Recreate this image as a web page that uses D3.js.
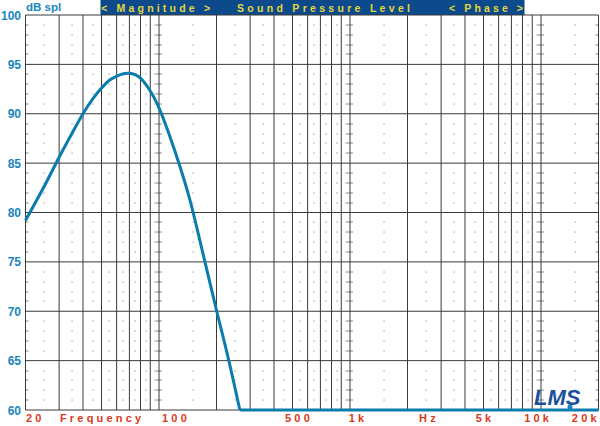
<!DOCTYPE html>
<html><head><meta charset="utf-8">
<script src="https://cdn.jsdelivr.net/npm/d3@7"></script>
<style>
html,body{margin:0;padding:0;background:#fff;}
svg{display:block;}
text{font-family:"Liberation Sans",Arial,Helvetica,sans-serif;font-weight:bold;}
</style></head>
<body>
<svg id="chart" width="600" height="426"></svg>
<script>
// ---- data ----
const freqHz = [20, 25, 30, 35, 40, 45, 50, 55, 60, 65, 70, 75, 80, 90, 100, 114, 129, 145, 174, 200, 232, 265];
const splDb  = [79.2, 82.6, 85.6, 88.0, 90.0, 91.5, 92.6, 93.4, 93.8, 94.05, 94.1, 93.95, 93.6, 92.3, 90.6, 87.7, 84.6, 81.3, 75.0, 70.1, 65.0, 60.0];
const floorFreqs = [265, 20000];
const floorDb = [60, 60];
const yTicks = [60, 65, 70, 75, 80, 85, 90, 95, 100];
const xLabels = ["20", "Frequency", "100", "500", "1k", "Hz", "5k", "10k", "20k"];
const xLabelFreqs = [20.1, 30.3, 103.7, 457, 985, 2300, 4557, 8165, 14500];
const headerTexts = ["< Magnitude >", "Sound Pressure Level", "< Phase >"];
const headerFreqs = [49.8, 256, 3300];
const headerEnds = [185, 2060, 8050];

// ---- scales ----
const svg = d3.select("#chart");
const x = d3.scaleLog().domain([20, 20000]).range([25.5, 598.5]);
const y = d3.scaleLinear().domain([60, 100]).range([410, 15]);

// grid frequencies
const gridF = [];
const dotF = [];
[10, 100, 1000, 10000].forEach(dec => {
  for (let m = 1; m <= 10; m++) {
    const f = dec * m;
    if (f >= 20 && f <= 20000) gridF.push(f);
    const h = dec * (m + 0.5);
    if (m < 10 && h > 20 && h < 20000) dotF.push(h);
  }
});
const uniqGrid = Array.from(new Set(gridF));

// header bar
svg.append("rect").attr("x", 100.5).attr("y", 0).attr("width", 424).attr("height", 15).attr("fill", "#0d4a8b");
headerTexts.forEach((t, i) => {
  svg.append("text").attr("x", x(headerFreqs[i])).attr("y", 11.5)
    .attr("textLength", x(headerEnds[i]) - x(headerFreqs[i])).attr("lengthAdjust", "spacing")
    .attr("font-size", 10.5).attr("fill", "#e4d63c").text(t);
});

// dots (1 dB minor grid)
const g = svg.append("g");
const dbMinor = d3.range(61, 100).filter(d => d % 5 !== 0);
dotF.forEach(f => {
  dbMinor.forEach(d => {
    g.append("rect").attr("x", Math.round(x(f)) - 0.5).attr("y", Math.round(y(d)) - 0.5)
      .attr("width", 1.1).attr("height", 1.1).attr("fill", "#888");
  });
});
// small dashes on decade lines
[20, 100, 1000, 10000, 20000].forEach(f => {
  dbMinor.forEach(d => {
    const cx = x(f);
    const x0 = f === 20 ? cx : cx - 3;
    const x1 = f === 20000 ? cx : cx + 3;
    g.append("line").attr("x1", x0).attr("x2", x1).attr("y1", Math.round(y(d))).attr("y2", Math.round(y(d)))
      .attr("stroke", "#888").attr("stroke-width", 1);
  });
});

// vertical grid lines
uniqGrid.forEach(f => {
  g.append("line").attr("x1", x(f)).attr("x2", x(f)).attr("y1", 15).attr("y2", 410)
    .attr("stroke", "#3a3a3a").attr("stroke-width", 1);
});
// horizontal grid lines
yTicks.forEach(d => {
  g.append("line").attr("x1", 25.5).attr("x2", 598.5).attr("y1", y(d)).attr("y2", y(d))
    .attr("stroke", "#3a3a3a").attr("stroke-width", 1);
});

// y labels
yTicks.forEach(d => {
  svg.append("text").attr("x", 21).attr("y", y(d) + 4.5).attr("text-anchor", "end")
    .attr("font-size", 12).attr("fill", "#1786bd").text(d);
});
svg.append("text").attr("x", 26).attr("y", 11).attr("font-size", 11.5).attr("fill", "#1786bd").text("dB spl");

// x labels
xLabels.forEach((t, i) => {
  svg.append("text").attr("x", x(xLabelFreqs[i])).attr("y", 421.5)
    .attr("font-size", 11).attr("letter-spacing", 3.2).attr("fill", "#d8381c").text(t);
});

// curve
const line = d3.line().x(d => x(d[0])).y(d => y(d[1])).curve(d3.curveCatmullRom.alpha(0.5));
svg.append("path").datum(freqHz.map((f, i) => [f, splDb[i]]))
  .attr("d", line).attr("fill", "none").attr("stroke", "#0a7cad").attr("stroke-width", 3);
svg.append("path").datum(floorFreqs.map((f, i) => [f, floorDb[i]]))
  .attr("d", d3.line().x(d => x(d[0])).y(d => y(d[1])))
  .attr("fill", "none").attr("stroke", "#0a7cad").attr("stroke-width", 3);

// LMS logo
svg.append("text").attr("x", 534).attr("y", 405).attr("font-family", "DejaVu Serif")
  .attr("font-style", "italic").attr("font-weight", "normal").attr("font-size", 22)
  .attr("fill", "#1b4f9c").text("LMS");
svg.append("circle").attr("cx", 570).attr("cy", 407).attr("r", 2.5).attr("fill", "#1786bd");
</script>
</body></html>
